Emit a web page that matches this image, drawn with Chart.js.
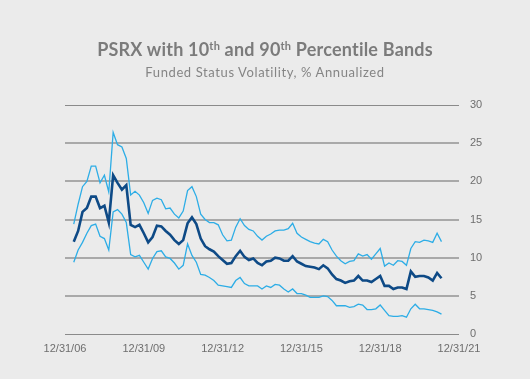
<!DOCTYPE html>
<html>
<head>
<meta charset="utf-8">
<script src="https://cdn.jsdelivr.net/npm/chart.js@4.4.1/dist/chart.umd.min.js"></script>
<style>
  html, body { margin: 0; padding: 0; background: #ebebeb; }
  #wrap { position: relative; width: 530px; height: 379px; background: #ebebeb; overflow: hidden; }
  #title { position: absolute; left: 0; top: 38px; width: 530px; text-align: center;
           font-family: Lato, "Noto Sans", sans-serif; font-weight: bold; font-size: 18px; color: #7b7b7b; line-height: 22px; letter-spacing: 0.2px; }
  #title sup { font-size: 11px; vertical-align: 6px; line-height: 0; }
  #subtitle { position: absolute; left: 0; top: 64px; width: 530px; text-align: center;
           font-family: Lato, "Noto Sans", sans-serif; font-size: 13px; color: #858585; line-height: 16px; letter-spacing: 0.6px; }
  canvas { position: absolute; left: 0; top: 0; }
</style>
</head>
<body>
<div id="wrap">
  <canvas id="c" width="530" height="379"></canvas>
  <div id="title">PSRX with 10<sup>th</sup> and 90<sup>th</sup> Percentile Bands</div>
  <div id="subtitle">Funded Status Volatility, % Annualized</div>
</div>
<script>
// Month-end dates (every two months)
const dates = [
  "2007-04","2007-06","2007-08","2007-10","2007-12","2008-02","2008-04","2008-06","2008-08","2008-10","2008-12",
  "2009-02","2009-04","2009-06","2009-08","2009-10","2009-12","2010-02","2010-04","2010-06","2010-08","2010-10","2010-12",
  "2011-02","2011-04","2011-06","2011-08","2011-10","2011-12","2012-02","2012-04","2012-06","2012-08","2012-10","2012-12",
  "2013-02","2013-04","2013-06","2013-08","2013-10","2013-12","2014-02","2014-04","2014-06","2014-08","2014-10","2014-12",
  "2015-02","2015-04","2015-06","2015-08","2015-10","2015-12","2016-02","2016-04","2016-06","2016-08","2016-10","2016-12",
  "2017-02","2017-04","2017-06","2017-08","2017-10","2017-12","2018-02","2018-04","2018-06","2018-08","2018-10","2018-12",
  "2019-02","2019-04","2019-06","2019-08","2019-10","2019-12","2020-02","2020-04","2020-06","2020-08","2020-10","2020-12",
  "2021-02","2021-04"
];
// 90th percentile band
const upper90 = [
  14.4,17.0,19.3,20.0,22.0,22.0,19.8,20.8,18.6,26.4,24.8,
  24.5,23.0,18.2,18.7,18.2,17.2,15.8,17.5,17.8,17.6,16.4,16.5,
  15.7,15.2,16.1,18.8,19.3,18.0,15.7,15.0,14.6,14.6,14.3,13.0,
  12.2,12.3,14.0,15.1,14.2,13.7,13.5,12.8,12.3,12.8,13.1,13.5,
  13.6,13.6,13.8,14.5,13.2,12.7,12.4,12.1,11.9,11.8,12.4,12.1,
  11.0,10.2,9.6,9.2,9.5,9.6,10.5,10.2,10.4,9.8,10.5,11.2,
  8.9,9.3,9.0,9.6,9.5,9.0,11.2,12.1,12.0,12.3,12.2,12.0,
  13.2,12.1
];
// PSRX (median)
const psrx = [
  12.1,13.5,16.0,16.5,18.0,18.0,16.5,16.8,14.6,20.8,19.8,
  18.9,19.5,14.3,14.0,14.3,13.2,12.0,12.7,14.2,14.1,13.5,13.0,
  12.3,11.8,12.3,14.5,15.3,14.4,12.5,11.5,11.1,10.8,10.2,9.7,
  9.2,9.3,10.2,10.9,10.1,9.7,9.9,9.3,9.0,9.5,9.6,10.0,
  9.9,9.6,9.6,10.2,9.5,9.2,8.9,8.8,8.7,8.5,9.0,8.6,
  7.8,7.2,7.0,6.7,6.9,7.0,7.6,7.0,7.0,6.8,7.2,7.6,
  6.3,6.3,5.9,6.1,6.1,5.9,8.2,7.5,7.6,7.6,7.4,7.0,
  8.0,7.3
];
// 10th percentile band
const lower10 = [
  9.4,11.0,12.0,13.2,14.2,14.4,12.8,12.5,11.0,16.0,16.3,
  15.7,14.6,10.4,10.1,10.3,9.4,8.5,9.9,10.8,10.9,10.1,9.9,
  9.3,8.5,9.0,11.8,10.3,9.4,7.8,7.7,7.4,7.0,6.4,6.3,
  6.2,6.1,7.0,7.4,6.6,6.3,6.3,6.3,5.9,6.3,6.1,6.5,
  6.4,5.9,5.5,5.9,5.3,5.3,5.1,4.8,4.8,4.8,5.0,4.9,
  4.4,3.7,3.7,3.7,3.5,3.6,3.9,3.8,3.2,3.2,3.3,3.8,
  3.1,2.4,2.3,2.3,2.4,2.2,3.3,3.9,3.3,3.3,3.2,3.1,
  2.9,2.6
];
const yTicks = [0, 5, 10, 15, 20, 25, 30];
const xTickYears = [2007, 2010, 2013, 2016, 2019, 2022];
const xTickLabels = ["12/31/06", "12/31/09", "12/31/12", "12/31/15", "12/31/18", "12/31/21"];

function toYear(s) {
  const [y, m] = s.split("-").map(Number);
  return y + m / 12;
}
function pts(vals) { return vals.map((v, i) => ({ x: toYear(dates[i]), y: v })); }

const lightBlue = "#2dade6";
const navy = "#0e4a86";

new Chart(document.getElementById("c"), {
  type: "line",
  data: {
    datasets: [
      { label: "90th", data: pts(upper90), borderColor: lightBlue, borderWidth: 1.3, pointRadius: 0, tension: 0, fill: false },
      { label: "10th", data: pts(lower10), borderColor: lightBlue, borderWidth: 1.3, pointRadius: 0, tension: 0, fill: false },
      { label: "PSRX", data: pts(psrx), borderColor: navy, borderWidth: 2.6, pointRadius: 0, tension: 0, fill: false }
    ]
  },
  options: {
    responsive: false,
    animation: false,
    events: [],
    layout: { padding: { left: 65, top: 105, right: 0, bottom: 0 } },
    plugins: { legend: { display: false }, tooltip: { enabled: false }, title: { display: false } },
    scales: {
      x: {
        type: "linear",
        min: xTickYears[0],
        max: xTickYears[xTickYears.length - 1],
        afterFit: s => { s.height = 45; },
        afterBuildTicks: s => { s.ticks = xTickYears.map(v => ({ value: v })); },
        grid: { display: false, drawTicks: false },
        border: { display: false },
        ticks: {
          padding: 8,
          maxRotation: 0,
          autoSkip: false,
          color: "#6e6e6e",
          font: { family: "Liberation Sans", size: 11 },
          callback: v => xTickLabels[xTickYears.indexOf(v)]
        }
      },
      y: {
        position: "right",
        min: yTicks[0],
        max: yTicks[yTicks.length - 1],
        afterFit: s => { s.width = 71; },
        afterBuildTicks: s => { s.ticks = yTicks.map(v => ({ value: v })); },
        grid: {
          drawTicks: false,
          color: c => (c.tick && (c.tick.value === 0 || c.tick.value === 30)) ? "#8a8a8a" : "#a9a9a9",
          lineWidth: c => (c.tick && (c.tick.value === 0 || c.tick.value === 30)) ? 1 : 2
        },
        border: { display: false },
        ticks: {
          padding: 11,
          color: "#6e6e6e",
          font: { family: "Liberation Sans", size: 11 }
        }
      }
    }
  }
});
</script>
</body>
</html>
